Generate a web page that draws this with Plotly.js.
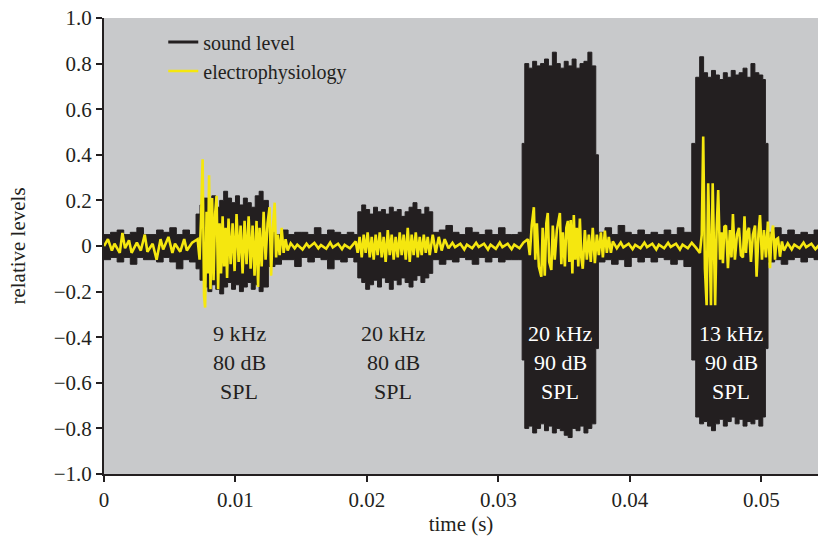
<!DOCTYPE html>
<html><head><meta charset="utf-8">
<script src="https://cdn.plot.ly/plotly-3.0.1.min.js"></script>
<style>html,body{margin:0;padding:0;background:#fff}#chart{width:818px;height:540px}</style>
</head><body><div id="chart"></div>
<script>
// Sound level envelope (upper/lower extremes of the recorded waveform)
const soundTime = [
 0.0000,0.0005,0.0010,0.0015,0.0020,0.0025,0.0030,0.0035,0.0040,0.0045,0.0050,0.0055,0.0060,0.0065,
 0.0070,0.0073,0.0076,0.0079,0.0082,0.0085,0.0088,0.0091,0.0094,0.0097,0.0100,0.0103,0.0106,0.0109,0.0112,0.0115,0.0118,0.0121,
 0.0125,0.0130,0.0135,0.0140,0.0145,0.0150,0.0155,0.0160,0.0165,0.0170,0.0175,0.0180,0.0185,0.0190,
 0.0193,0.0196,0.0199,0.0202,0.0205,0.0208,0.0211,0.0214,0.0217,0.0220,0.0223,0.0226,0.0229,0.0232,0.0235,0.0238,0.0241,0.0244,0.0247,
 0.0250,0.0255,0.0260,0.0265,0.0270,0.0275,0.0280,0.0285,0.0290,0.0295,0.0300,0.0305,0.0310,0.0315,
 0.0318,0.0320,0.0323,0.0326,0.0329,0.0332,0.0335,0.0338,0.0341,0.0344,0.0347,0.0350,0.0353,0.0356,0.0359,0.0362,0.0365,0.0368,0.0371,0.0374,
 0.0376,0.0381,0.0386,0.0391,0.0396,0.0401,0.0406,0.0411,0.0416,0.0421,0.0426,0.0431,0.0436,0.0441,
 0.0447,0.0450,0.0453,0.0456,0.0459,0.0462,0.0465,0.0468,0.0471,0.0474,0.0477,0.0480,0.0483,0.0486,0.0489,0.0492,0.0495,0.0498,0.0501,0.0503,
 0.0505,0.0510,0.0515,0.0520,0.0525,0.0530,0.0535,0.0540,0.0545
];
const soundUpper = [
 0.05,0.06,0.07,0.05,0.06,0.08,0.05,0.05,0.07,0.06,0.08,0.05,0.07,0.05,
 0.14,0.18,0.21,0.19,0.22,0.17,0.20,0.24,0.21,0.19,0.22,0.18,0.21,0.19,0.17,0.22,0.24,0.20,
 0.06,0.05,0.07,0.05,0.06,0.06,0.05,0.08,0.05,0.07,0.06,0.05,0.06,0.05,
 0.15,0.18,0.16,0.14,0.17,0.15,0.16,0.14,0.17,0.15,0.16,0.13,0.15,0.17,0.19,0.16,0.14,0.17,0.15,
 0.06,0.07,0.09,0.06,0.05,0.08,0.06,0.05,0.07,0.05,0.08,0.05,0.05,0.06,
 0.45,0.80,0.78,0.81,0.79,0.80,0.82,0.79,0.85,0.80,0.78,0.81,0.79,0.82,0.78,0.80,0.81,0.85,0.79,0.40,
 0.06,0.08,0.05,0.09,0.06,0.05,0.07,0.05,0.06,0.05,0.07,0.05,0.08,0.06,
 0.45,0.74,0.83,0.76,0.74,0.77,0.75,0.73,0.76,0.74,0.77,0.75,0.76,0.78,0.74,0.80,0.76,0.75,0.73,0.45,
 0.06,0.08,0.05,0.07,0.05,0.06,0.05,0.07,0.05
];
const soundLower = [
 -0.06,-0.05,-0.07,-0.05,-0.08,-0.05,-0.06,-0.06,-0.07,-0.05,-0.07,-0.10,-0.06,-0.07,
 -0.10,-0.15,-0.18,-0.20,-0.17,-0.19,-0.21,-0.18,-0.16,-0.19,-0.17,-0.20,-0.18,-0.16,-0.19,-0.17,-0.20,-0.18,
 -0.09,-0.08,-0.06,-0.06,-0.09,-0.05,-0.07,-0.05,-0.06,-0.10,-0.06,-0.07,-0.05,-0.07,
 -0.14,-0.16,-0.19,-0.17,-0.15,-0.18,-0.14,-0.16,-0.19,-0.15,-0.17,-0.14,-0.16,-0.18,-0.15,-0.13,-0.16,-0.14,-0.12,
 -0.06,-0.08,-0.06,-0.07,-0.05,-0.06,-0.08,-0.05,-0.07,-0.05,-0.07,-0.06,-0.06,-0.06,
 -0.50,-0.80,-0.79,-0.82,-0.80,-0.78,-0.81,-0.79,-0.82,-0.80,-0.81,-0.83,-0.84,-0.80,-0.81,-0.79,-0.82,-0.80,-0.78,-0.45,
 -0.07,-0.06,-0.08,-0.06,-0.09,-0.05,-0.07,-0.05,-0.07,-0.05,-0.06,-0.08,-0.06,-0.09,
 -0.50,-0.75,-0.78,-0.77,-0.79,-0.81,-0.78,-0.76,-0.79,-0.77,-0.75,-0.78,-0.76,-0.79,-0.77,-0.78,-0.76,-0.79,-0.75,-0.45,
 -0.07,-0.06,-0.08,-0.06,-0.05,-0.07,-0.05,-0.06,-0.06
];

// Electrophysiology trace (peaks and troughs)
const ephysTime = [
 0.0000,0.0003,0.0006,0.0008,0.0012,0.0014,0.0016,0.0019,0.0021,0.0025,0.0028,0.0031,0.0033,0.0037,0.0040,0.0043,0.0045,0.0049,0.0052,0.0054,0.0058,0.0061,0.0063,0.0067,
 0.00712,0.00727,0.00738,0.00750,0.00761,0.00769,0.00780,0.00791,0.00799,0.00810,0.00822,0.00833,0.00845,0.00856,0.00868,0.00879,0.00890,0.00902,0.00913,0.00925,0.00936,0.00947,0.00963,0.00978,0.00993,0.01008,0.01024,0.01039,0.01054,0.01069,0.01084,0.01100,0.01115,0.01130,0.01145,0.01160,0.01172,0.01183,0.01199,0.01214,0.01229,0.01244,0.01259,0.01271,0.01282,0.01298,0.01309,0.01320,0.01336,0.01351,0.01366,0.01381,0.01397,
 0.0142,0.0145,0.0147,0.0151,0.0154,0.0156,0.0160,0.0163,0.0165,0.0169,0.0172,0.0174,0.0178,0.0181,0.0183,0.0187,0.0190,
 0.01914,0.01929,0.01944,0.01960,0.01975,0.01990,0.02005,0.02021,0.02036,0.02051,0.02066,0.02081,0.02097,0.02112,0.02127,0.02142,0.02158,0.02173,0.02188,0.02203,0.02218,0.02234,0.02249,0.02264,0.02279,0.02295,0.02310,0.02325,0.02340,0.02355,0.02371,0.02386,0.02401,0.02416,0.02432,0.02447,0.02462,0.02477,0.02500,0.02523,0.02546,0.02568,0.02591,
 0.0262,0.0265,0.0267,0.0271,0.0274,0.0276,0.0280,0.0283,0.0285,0.0289,0.0292,0.0294,0.0298,0.0301,0.0303,0.0307,0.0310,0.0312,0.0316,0.0319,
 0.03223,0.03238,0.03253,0.03269,0.03280,0.03292,0.03307,0.03326,0.03336,0.03352,0.03364,0.03375,0.03386,0.03402,0.03413,0.03428,0.03444,0.03455,0.03467,0.03478,0.03489,0.03505,0.03516,0.03528,0.03539,0.03550,0.03562,0.03573,0.03584,0.03596,0.03607,0.03619,0.03630,0.03641,0.03657,0.03672,0.03687,0.03702,0.03717,0.03733,0.03748,0.03763,0.03779,0.03794,0.03809,0.03824,0.03839,0.03855,0.03870,
 0.0390,0.0393,0.0395,0.0399,0.0402,0.0404,0.0408,0.0411,0.0413,0.0417,0.0420,0.0422,0.0426,0.0429,0.0431,0.0435,0.0438,0.0440,0.0444,0.0447,0.0450,
 0.04532,0.04546,0.04557,0.04570,0.04583,0.04595,0.04606,0.04616,0.04629,0.04639,0.04648,0.04659,0.04671,0.04685,0.04696,0.04707,0.04718,0.04730,0.04745,0.04760,0.04772,0.04783,0.04798,0.04814,0.04829,0.04844,0.04859,0.04871,0.04882,0.04893,0.04905,0.04920,0.04935,0.04951,0.04963,0.04977,0.04989,0.05004,0.05019,0.05034,0.05049,0.05065,0.05076,0.05088,0.05103,0.05114,0.05126,0.05141,0.05156,0.05171,
 0.0520,0.0523,0.0525,0.0529,0.0532,0.0534,0.0538,0.0541,0.0544
];
const ephysLevel = [
 0.00,0.03,-0.02,0.01,-0.03,0.057,-0.01,0.025,-0.03,0.015,-0.02,0.05,-0.025,0.01,-0.06,0.03,-0.015,0.04,-0.03,0.01,-0.025,0.03,-0.02,0.015,
 0.03,-0.06,0.12,0.38,-0.22,-0.27,0.15,-0.12,0.31,-0.19,0.21,-0.15,0.14,0.22,-0.19,0.10,-0.12,0.13,-0.09,0.08,-0.14,0.12,-0.08,0.10,-0.11,0.14,-0.07,0.09,-0.12,0.11,-0.08,0.13,-0.10,0.09,-0.13,0.11,-0.18,0.08,-0.09,0.15,-0.06,0.10,0.17,-0.13,0.06,0.19,-0.05,0.05,-0.04,0.08,-0.03,0.03,-0.02,
 0.012,-0.01,0.006,-0.015,0.01,-0.005,0.014,-0.01,0.004,-0.012,0.015,-0.006,0.01,-0.014,0.005,-0.01,0.014,
 0.02,-0.03,0.04,-0.05,0.05,-0.03,0.06,-0.05,0.04,-0.06,0.05,-0.04,0.06,-0.05,0.04,-0.07,0.07,-0.04,0.05,-0.06,0.04,-0.05,0.06,-0.04,0.05,-0.06,0.08,-0.07,0.05,-0.04,0.06,-0.05,0.04,-0.04,0.05,-0.03,0.04,-0.04,0.05,-0.03,0.04,-0.02,0.03,
 -0.01,0.014,-0.005,0.01,-0.015,0.006,-0.01,0.014,-0.004,0.01,-0.015,0.006,-0.012,0.015,-0.005,0.01,-0.014,0.006,-0.01,0.015,
 0.03,-0.04,0.09,0.17,-0.06,0.10,-0.09,-0.135,0.08,-0.13,0.10,0.145,-0.07,-0.105,0.09,-0.06,0.07,0.11,0.145,-0.08,0.06,-0.09,0.08,0.11,-0.07,0.114,-0.12,0.136,-0.06,0.08,-0.09,0.12,-0.05,-0.10,0.07,-0.06,0.05,-0.07,0.08,-0.075,0.05,-0.04,0.06,-0.05,0.067,-0.03,0.04,-0.03,0.02,
 -0.01,0.015,-0.006,0.01,-0.014,0.005,-0.01,0.015,-0.005,0.01,-0.015,0.006,-0.01,0.014,-0.004,0.01,-0.015,0.006,-0.01,0.014,-0.006,
 -0.03,0.05,0.48,-0.10,-0.26,0.275,-0.05,-0.26,0.275,-0.08,-0.26,0.07,0.245,-0.06,0.06,-0.075,0.085,0.09,-0.097,0.07,-0.05,0.14,-0.06,0.05,0.08,-0.04,-0.05,0.13,-0.03,0.06,0.08,-0.07,0.05,0.09,-0.135,0.05,0.136,-0.06,0.07,-0.05,0.107,-0.097,0.05,0.09,-0.06,0.03,0.035,-0.047,0.02,-0.02,
 0.012,-0.015,0.006,-0.01,0.015,-0.005,0.01,-0.014,0.006
];

// Stimulus labels
const labelTime = [0.0103, 0.0220, 0.0347, 0.0477];
const labelFreq = ['9 kHz', '20 kHz', '20 kHz', '13 kHz'];
const labelLevel = ['80 dB', '80 dB', '90 dB', '90 dB'];
const labelUnit = ['SPL', 'SPL', 'SPL', 'SPL'];

// Axis ticks
const xTickVals = [0, 0.01, 0.02, 0.03, 0.04, 0.05];
const xTickText = ['0', '0.01', '0.02', '0.03', '0.04', '0.05'];
const yTickVals = [-1, -0.8, -0.6, -0.4, -0.2, 0, 0.2, 0.4, 0.6, 0.8, 1];
const yTickText = ['\u22121.0', '\u22120.8', '\u22120.6', '\u22120.4', '\u22120.2', '0', '0.2', '0.4', '0.6', '0.8', '1.0'];

const BLACK = '#231f20';
const YELLOW = '#f5e70f';
const FONT = 'Liberation Serif, Times New Roman, serif';
const FS = 21;

const traces = [
  {x: [null], y: [null], mode: 'lines', name: 'sound level', line: {color: BLACK, width: 3}, hoverinfo: 'skip'},
  {x: soundTime, y: soundLower, mode: 'lines', line: {color: BLACK, width: 1, shape: 'hv'}, showlegend: false, hoverinfo: 'skip'},
  {x: soundTime, y: soundUpper, mode: 'lines', line: {color: BLACK, width: 1, shape: 'hv'}, fill: 'tonexty', fillcolor: BLACK, showlegend: false, hoverinfo: 'skip'},
  {x: ephysTime, y: ephysLevel, mode: 'lines', name: 'electrophysiology', line: {color: YELLOW, width: 2.6}}
];

const annotations = [];
const lineY = [-0.382, -0.509, -0.640];
labelTime.forEach((t, i) => {
  const col = i < 2 ? BLACK : '#ffffff';
  [labelFreq[i], labelLevel[i], labelUnit[i]].forEach((txt, j) => {
    annotations.push({x: t, y: lineY[j], xref: 'x', yref: 'y', text: txt, showarrow: false,
      font: {family: FONT, size: FS + 1, color: col}, xanchor: 'center', yanchor: 'middle'});
  });
});

const layout = {
  width: 818, height: 540,
  margin: {l: 104, r: 0, t: 18, b: 66},
  paper_bgcolor: '#ffffff',
  plot_bgcolor: '#c8c9cb',
  font: {family: FONT, size: FS, color: BLACK},
  showlegend: true,
  legend: {x: 0.083, y: 0.99, xanchor: 'left', yanchor: 'top', bgcolor: 'rgba(0,0,0,0)', traceorder: 'normal',
           font: {family: FONT, size: 20, color: BLACK}, tracegroupgap: 0},
  xaxis: {range: [0, 0.0543], tickvals: xTickVals, ticktext: xTickText, ticks: 'outside', ticklen: 6, tickwidth: 2,
          tickcolor: BLACK, showline: true, linewidth: 2, linecolor: BLACK, showgrid: false, zeroline: false,
          tickfont: {family: FONT, size: FS, color: BLACK},
          title: {text: 'time (s)', font: {family: FONT, size: FS, color: BLACK}, standoff: 4}},
  yaxis: {range: [-1, 1], tickvals: yTickVals, ticktext: yTickText, ticks: 'outside', ticklen: 6, tickwidth: 2,
          tickcolor: BLACK, showline: true, linewidth: 2, linecolor: BLACK, showgrid: false, zeroline: false,
          tickfont: {family: FONT, size: FS, color: BLACK},
          title: {text: 'relative levels', font: {family: FONT, size: FS, color: BLACK}, standoff: 22}},
  annotations: annotations
};

Plotly.newPlot('chart', traces, layout, {displayModeBar: false, staticPlot: true});
</script>
</body></html>
